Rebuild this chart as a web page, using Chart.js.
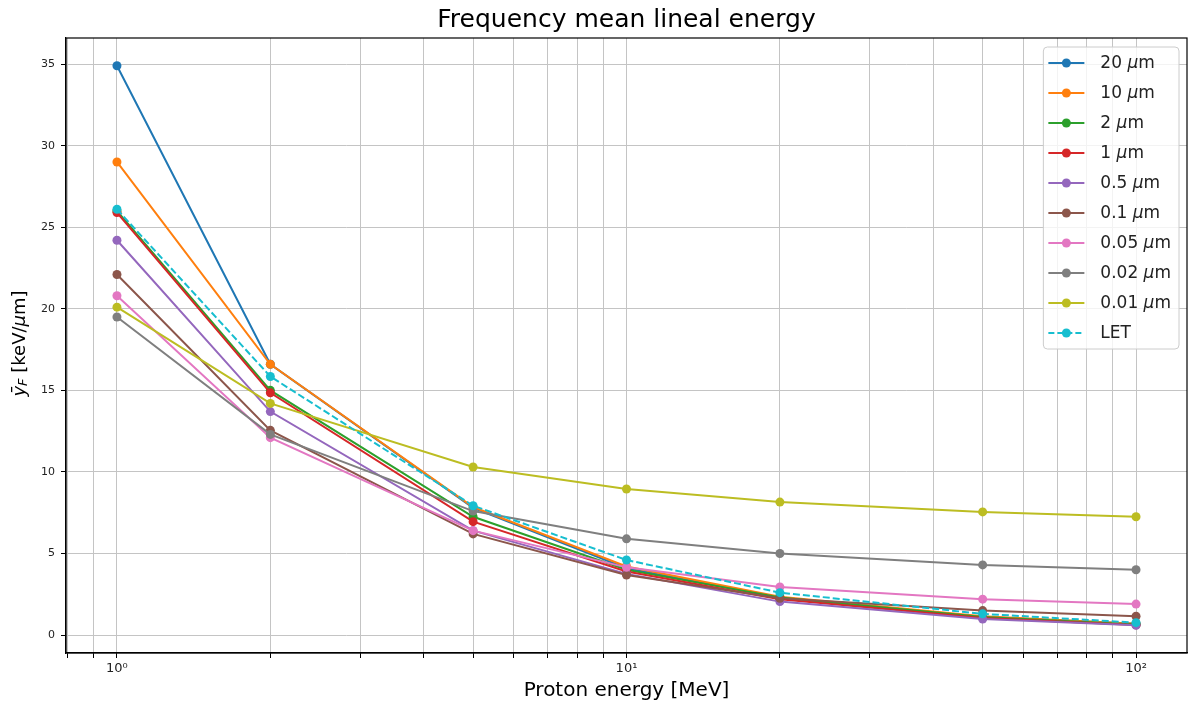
<!DOCTYPE html>
<html>
<head>
<meta charset="utf-8">
<script src="https://cdn.jsdelivr.net/npm/chart.js@4/dist/chart.umd.min.js"></script>
<style>
  body { margin: 0; background: #fff; }
  canvas { display: block; }
</style>
</head>
<body>
<canvas id="myChart" width="1188" height="706"></canvas>
<script>
// proton energies [MeV]
const energies = [1, 2, 5, 10, 20, 50, 100]

const labels = ['20 μm', '10 μm', '2 μm', '1 μm', '0.5 μm', '0.1 μm', '0.05 μm', '0.02 μm', '0.01 μm', 'LET']

const y20 = [34.9, 16.6, 7.8, 4.1, 2.3, 1.1, 0.7]
const y10 = [29.0, 16.6, 7.85, 4.2, 2.35, 1.15, 0.7]
const y2 = [26.0, 15.0, 7.25, 4.0, 2.3, 1.1, 0.65]
const y1 = [25.9, 14.85, 6.95, 3.9, 2.2, 1.05, 0.62]
const y05 = [24.2, 13.7, 6.4, 3.75, 2.05, 0.98, 0.6]
const y01 = [22.1, 12.55, 6.2, 3.68, 2.25, 1.5, 1.15]
const y005 = [20.8, 12.1, 6.4, 4.15, 2.95, 2.2, 1.9]
const y002 = [19.5, 12.3, 7.6, 5.9, 5.0, 4.3, 4.0]
const y001 = [20.1, 14.2, 10.3, 8.95, 8.15, 7.55, 7.25]
const yLET = [26.1, 15.85, 7.93, 4.6, 2.6, 1.3, 0.76]

const series = [y20, y10, y2, y1, y05, y01, y005, y002, y001, yLET]

const colors = ['#1f77b4', '#ff7f0e', '#2ca02c', '#d62728', '#9467bd',
                '#8c564b', '#e377c2', '#7f7f7f', '#bcbd22', '#17becf']

const xTicks = [0.8, 0.9, 1, 2, 3, 4, 5, 6, 7, 8, 9, 10, 20, 30, 40, 50, 60, 70, 80, 90, 100]
const yTicks = [0, 5, 10, 15, 20, 25, 30, 35]
const supers = { 1: '10⁰', 10: '10¹', 100: '10²' }

const FONT = "'DejaVu Sans', sans-serif"
const TITLE = 'Frequency mean lineal energy'

// draw text where μ is italic
function drawMixed(ctx, text, x, y, size) {
    const parts = text.split(/(μ)/).filter(p => p.length)
    let cx = x
    ctx.textAlign = 'left'
    parts.forEach(p => {
        ctx.font = (p === 'μ' ? 'italic ' : '') + size + 'px ' + FONT
        ctx.fillText(p, cx, y)
        cx += ctx.measureText(p).width
    })
    return cx - x
}

const framePlugin = {
    id: 'frame',
    afterDatasetsDraw(chart) {
        const { ctx, chartArea: a } = chart
        ctx.save()
        ctx.strokeStyle = '#000'
        ctx.lineWidth = 1.2
        ctx.strokeRect(a.left, a.top, a.right - a.left, a.bottom - a.top)
        // title centred over the axes
        ctx.fillStyle = '#000'
        ctx.font = '25px ' + FONT
        ctx.textAlign = 'center'
        ctx.textBaseline = 'middle'
        ctx.fillText(TITLE, (a.left + a.right) / 2, a.top / 2 + 1)
        ctx.restore()
    }
}

const yTitlePlugin = {
    id: 'yTitle',
    afterDraw(chart) {
        const { ctx, chartArea: a } = chart
        ctx.save()
        ctx.translate(20, (a.top + a.bottom) / 2 - 2)
        ctx.rotate(-Math.PI / 2)
        ctx.fillStyle = '#000'
        ctx.textBaseline = 'middle'
        const parts = [
            { t: 'ȳ', f: 'italic 18px ' + FONT, dy: 0 },
            { t: 'F', f: 'italic 13px ' + FONT, dy: 4 },
            { t: ' [keV/', f: '18px ' + FONT, dy: 0 },
            { t: 'μ', f: 'italic 18px ' + FONT, dy: 0 },
            { t: 'm]', f: '18px ' + FONT, dy: 0 }
        ]
        let total = 0
        parts.forEach(p => { ctx.font = p.f; total += ctx.measureText(p.t).width })
        let x = -total / 2
        parts.forEach(p => {
            ctx.font = p.f
            ctx.fillText(p.t, x, p.dy)
            x += ctx.measureText(p.t).width
        })
        ctx.restore()
    }
}

const legendPlugin = {
    id: 'boxLegend',
    afterDraw(chart) {
        const { ctx, chartArea: a } = chart
        const size = 17, rowH = 30
        ctx.save()
        let maxW = 0
        labels.forEach(l => {
            const parts = l.split(/(μ)/).filter(p => p.length)
            let w = 0
            parts.forEach(p => { ctx.font = (p === 'μ' ? 'italic ' : '') + size + 'px ' + FONT; w += ctx.measureText(p).width })
            maxW = Math.max(maxW, w)
        })
        const w = 5 + 36 + 16 + maxW + 8
        const h = rowH * labels.length + 2
        const left = a.right - 8 - w
        const top = a.top + 9
        ctx.beginPath()
        ctx.roundRect(left, top, w, h, 4)
        ctx.fillStyle = 'rgba(255,255,255,0.8)'
        ctx.fill()
        ctx.strokeStyle = '#cccccc'
        ctx.lineWidth = 1
        ctx.stroke()

        labels.forEach((l, i) => {
            const cy = top + 16 + i * rowH
            ctx.strokeStyle = colors[i]
            ctx.fillStyle = colors[i]
            ctx.lineWidth = 2
            ctx.setLineDash(i === 9 ? [6, 3] : [])
            ctx.beginPath()
            ctx.moveTo(left + 5, cy)
            ctx.lineTo(left + 41, cy)
            ctx.stroke()
            ctx.setLineDash([])
            ctx.beginPath()
            ctx.arc(left + 23, cy, 4.5, 0, Math.PI * 2)
            ctx.fill()
            ctx.fillStyle = '#222'
            ctx.textBaseline = 'middle'
            drawMixed(ctx, l, left + 57, cy + 1, size)
        })
        ctx.restore()
    }
}

const el = document.getElementById('myChart')

const datasets = series.map((s, i) => ({
    label: labels[i],
    data: energies.map((e, j) => ({ x: e, y: s[j] })),
    borderColor: colors[i],
    backgroundColor: colors[i],
    borderWidth: 2,
    borderDash: i === 9 ? [7, 3] : [],
    pointRadius: 4.5,
    pointHoverRadius: 4.5,
    pointBorderWidth: 0,
    tension: 0,
    order: series.length - i
}))

const myChart = new Chart(el, {
    type: 'line',
    data: { datasets: datasets },
    options: {
        responsive: false,
        animation: false,
        layout: { autoPadding: false, padding: { left: 0, right: 1, top: 38, bottom: 0 } },
        plugins: {
            legend: { display: false },
            tooltip: { enabled: false },
            title: { display: false }
        },
        scales: {
            x: {
                type: 'logarithmic',
                min: Math.pow(10, -0.1),
                max: Math.pow(10, 2.1),
                afterBuildTicks: scale => { scale.ticks = xTicks.map(v => ({ value: v })) },
                afterFit: scale => {
                    scale.height = 53
                    scale.paddingLeft = 0
                    scale.paddingRight = 0
                },
                ticks: {
                    autoSkip: false,
                    maxRotation: 0,
                    color: '#222',
                    padding: 3,
                    font: { family: FONT, size: 13 },
                    callback: v => supers[v] || ''
                },
                grid: { color: '#c4c4c4', lineWidth: 1, tickLength: 5, tickColor: '#000' },
                border: { display: true, color: '#000', width: 1.2 },
                title: {
                    display: true,
                    text: 'Proton energy [MeV]',
                    color: '#000',
                    font: { family: FONT, size: 20 },
                    padding: { top: 0, bottom: 3 }
                }
            },
            y: {
                type: 'linear',
                min: -1.1,
                max: 36.6,
                afterBuildTicks: scale => { scale.ticks = yTicks.map(v => ({ value: v })) },
                afterFit: scale => {
                    scale.width = 66
                    scale.paddingTop = 0
                    scale.paddingBottom = 0
                },
                ticks: {
                    color: '#222',
                    padding: 6,
                    font: { family: FONT, size: 11 }
                },
                grid: { color: '#c4c4c4', lineWidth: 1, tickLength: 5, tickColor: '#000' },
                border: { display: true, color: '#000', width: 1.2 }
            }
        }
    },
    plugins: [framePlugin, yTitlePlugin, legendPlugin]
})
</script>
</body>
</html>
